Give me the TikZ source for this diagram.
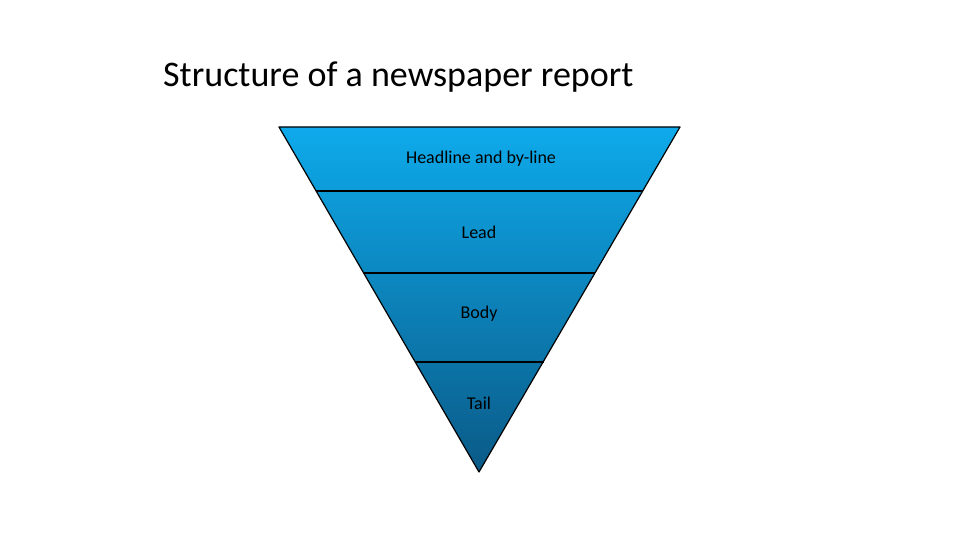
\documentclass[tikz,border=0pt]{standalone}
\usepackage{fontspec}
\setmainfont{Carlito}
\begin{document}
\begin{tikzpicture}[x=1pt,y=-1pt,
  lbl/.style={font=\fontsize{18}{21}\selectfont,text=black},
  sep/.style={draw=black,line width=1.6pt}]
\useasboundingbox (0,0) rectangle (960,540);
\coordinate (tl) at (279,127);
\coordinate (tr) at (680,127);
\coordinate (bt) at (479,472);
\shade[top color={rgb,255:red,14;green,170;blue,235}, bottom color={rgb,255:red,10;green,90;blue,135}]
  (tl) -- (tr) -- (bt) -- cycle;
\draw[sep] (316,191) -- (643,191);
\draw[sep] (364,273) -- (595,273);
\draw[sep] (415,362) -- (544,362);
\draw[black,line width=1.2pt,line join=round] (tl) -- (tr) -- (bt) -- cycle;
\node[anchor=west,inner sep=0pt,font=\fontsize{36}{40}\selectfont] (title) at (163,77) {Structure of a newspaper report};
\node[lbl] (h) at (481,159) {Headline and by-line};
\node[lbl] (l) at (479,232) {Lead};
\node[lbl] (b) at (479,314) {Body};
\node[lbl] (t) at (479,403) {Tail};
\end{tikzpicture}
\end{document}
